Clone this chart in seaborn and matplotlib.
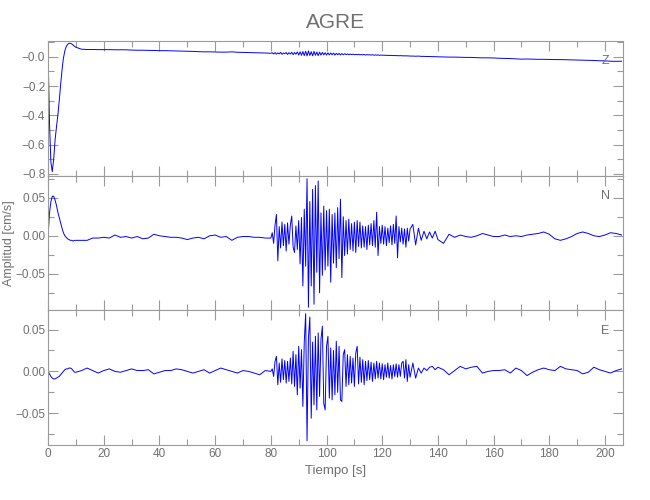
import numpy as np
import matplotlib
matplotlib.use("Agg")
import matplotlib.pyplot as plt
from matplotlib.ticker import MultipleLocator, FixedLocator, FixedFormatter
import seaborn as sns

# sampling instants (s): dense at the onset and during the strong motion
t_onset = np.arange(0, 10.01, 0.5)
t_pre = np.arange(12, 80.1, 2)
t_strong = np.arange(80.5, 130.01, 0.5)
t_coda = np.arange(131, 140.1, 1)
t_tail = np.arange(142, 206.1, 2)

# Z component (cm/s)
z_onset = [0.02, -0.45, -0.72, -0.785, -0.70, -0.57, -0.48, -0.40, -0.30, -0.19, -0.09,
           -0.01, 0.04, 0.07, 0.085, 0.092, 0.092, 0.088, 0.08, 0.072, 0.065]
z_pre = [0.052, 0.050, 0.050, 0.049, 0.049, 0.049, 0.048, 0.048, 0.048, 0.046, 0.045, 0.045,
         0.044, 0.043, 0.042, 0.042, 0.041, 0.040, 0.039, 0.038, 0.037, 0.035, 0.034, 0.034,
         0.033, 0.032, 0.032, 0.034, 0.031, 0.030, 0.029, 0.028, 0.027, 0.026, 0.024]
z_strong = [0.028, 0.019, 0.029, 0.018, 0.027, 0.020, 0.030, 0.017, 0.026, 0.021,
            0.029, 0.016, 0.028, 0.019, 0.031, 0.015, 0.029, 0.018, 0.033, 0.012,
            0.034, 0.010, 0.036, 0.008, 0.038, 0.006, 0.040, 0.009, 0.035, 0.007,
            0.037, 0.010, 0.033, 0.008, 0.032, 0.012, 0.030, 0.013, 0.028, 0.012,
            0.027, 0.013, 0.026, 0.014, 0.025, 0.012, 0.024, 0.014, 0.023, 0.013,
            0.022, 0.014, 0.021, 0.015, 0.020, 0.014, 0.019, 0.015, 0.018, 0.014,
            0.017, 0.014, 0.017, 0.013, 0.016, 0.013, 0.016, 0.012, 0.015, 0.013,
            0.014, 0.012, 0.014, 0.011, 0.013, 0.011, 0.013, 0.010, 0.012, 0.011,
            0.011, 0.010, 0.011, 0.009, 0.010, 0.009, 0.010, 0.008, 0.009, 0.008,
            0.008, 0.007, 0.008, 0.007, 0.007, 0.006, 0.007, 0.006, 0.006, 0.005]
z_coda = [0.005, 0.004, 0.005, 0.003, 0.003, 0.002, 0.002, 0.001, 0.001, 0.0]
z_tail = [-0.001, -0.002, -0.002, -0.003, -0.004, -0.004, -0.006, -0.007, -0.007, -0.008,
          -0.010, -0.011, -0.012, -0.014, -0.016, -0.015, -0.016, -0.017, -0.017, -0.018,
          -0.019, -0.019, -0.020, -0.021, -0.022, -0.023, -0.024, -0.025, -0.027, -0.028,
          -0.030, -0.031, -0.030]

# N component (cm/s)
n_onset = [0.0, 0.03, 0.045, 0.052, 0.052, 0.047, 0.040, 0.031, 0.024, 0.017, 0.010,
           0.004, 0.0, -0.002, -0.004, -0.005, -0.006, -0.006, -0.007, -0.006, -0.006]
n_pre = [-0.006, -0.006, -0.003, -0.003, -0.002, -0.003, 0.001, -0.002, -0.001, -0.003,
         -0.001, -0.004, -0.003, 0.002, 0.0, -0.001, -0.002, -0.002, -0.003, -0.005,
         -0.003, -0.002, -0.004, 0.0, 0.001, -0.002, -0.001, -0.006, -0.002, -0.001,
         -0.001, -0.002, -0.002, -0.003, -0.003]
n_strong = [0.004, -0.010, 0.014, 0.028, -0.033, 0.012, -0.016, 0.018, -0.013, 0.015,
            -0.020, 0.017, -0.011, 0.014, 0.026, -0.015, -0.022, 0.013, -0.018, 0.020,
            -0.037, 0.024, -0.066, 0.035, -0.040, 0.075, -0.094, 0.045, -0.066, 0.061,
            -0.090, 0.066, -0.048, 0.072, -0.075, 0.030, -0.052, 0.039, -0.045, 0.033,
            -0.040, 0.035, -0.061, 0.028, -0.036, 0.030, -0.042, 0.037, -0.030, 0.048,
            -0.055, 0.025, -0.026, 0.020, -0.024, 0.022, -0.018, 0.016, -0.020, 0.018,
            -0.022, 0.020, -0.014, 0.018, -0.016, 0.013, -0.015, 0.012, -0.018, 0.014,
            -0.012, 0.016, -0.013, 0.020, -0.015, 0.031, -0.026, 0.012, -0.010, 0.014,
            -0.011, 0.012, -0.013, 0.010, -0.009, 0.013, -0.012, 0.015, -0.010, 0.026,
            -0.029, 0.012, -0.008, 0.010, -0.011, 0.009, -0.015, 0.010, -0.007, 0.009]
n_coda = [0.015, -0.012, 0.010, -0.006, 0.006, -0.004, 0.005, -0.003, 0.006, -0.005]
n_tail = [-0.010, 0.002, -0.002, 0.001, -0.001, -0.002, 0.0, 0.003, 0.001, -0.001,
          -0.001, 0.001, -0.001, 0.0, -0.001, 0.001, 0.002, 0.003, 0.005, 0.002,
          -0.004, -0.006, -0.004, -0.001, 0.003, 0.005, 0.003, 0.0, -0.001, 0.001,
          0.004, 0.003, 0.001]

# E component (cm/s)
e_onset = [0.0, -0.003, -0.006, -0.008, -0.009, -0.009, -0.008, -0.007, -0.006, -0.004,
           -0.002, 0.0, 0.002, 0.003, 0.003, 0.004, 0.004, 0.003, 0.001, -0.001, -0.001]
e_pre = [0.001, 0.004, 0.001, -0.002, 0.001, 0.003, 0.0, -0.001, 0.001, 0.003,
         0.001, 0.001, 0.002, -0.003, -0.001, 0.001, 0.001, 0.003, 0.002, 0.0,
         -0.002, 0.0, 0.002, -0.002, 0.001, 0.004, 0.002, 0.0, -0.002, 0.001,
         0.0, -0.002, -0.004, 0.001, 0.0]
e_strong = [0.003, -0.006, 0.012, 0.018, -0.016, 0.010, -0.013, 0.015, -0.010, 0.013,
            -0.014, 0.012, -0.012, 0.016, -0.015, 0.024, -0.018, 0.020, -0.028, 0.030,
            -0.020, 0.026, -0.042, 0.035, 0.069, -0.083, 0.040, 0.065, -0.056, 0.035,
            -0.040, 0.042, -0.046, 0.046, -0.030, 0.038, 0.054, -0.038, -0.046, 0.030,
            0.042, -0.032, 0.028, -0.034, 0.025, -0.028, 0.036, -0.025, 0.030, -0.034,
            -0.036, 0.020, 0.026, -0.018, 0.020, -0.016, 0.018, -0.014, 0.016, -0.018,
            0.022, 0.030, -0.015, 0.017, -0.013, 0.014, -0.016, 0.012, -0.011, 0.013,
            -0.010, 0.011, -0.012, 0.010, -0.009, 0.012, -0.008, 0.010, -0.009, 0.009,
            -0.010, 0.008, -0.007, 0.010, -0.008, 0.007, -0.009, 0.008, -0.006, 0.009,
            -0.007, 0.008, -0.006, 0.010, 0.012, -0.008, 0.014, -0.012, 0.008, -0.007]
e_coda = [0.010, -0.008, 0.004, -0.002, 0.004, 0.001, 0.005, 0.006, 0.002, 0.005]
e_tail = [0.002, -0.004, 0.001, 0.006, 0.003, 0.005, 0.006, -0.002, 0.0, 0.001,
          0.001, 0.002, -0.002, 0.004, 0.001, -0.005, -0.001, 0.002, 0.004, 0.002,
          0.001, 0.006, 0.003, 0.002, 0.001, -0.003, -0.001, 0.005, 0.002, 0.0,
          -0.002, 0.001, 0.003]

components = ["Z", "N", "E"]
title = "AGRE"

time = np.concatenate([t_onset, t_pre, t_strong, t_coda, t_tail])
traces = {
    "Z": np.concatenate([z_onset, z_pre, z_strong, z_coda, z_tail]),
    "N": np.concatenate([n_onset, n_pre, n_strong, n_coda, n_tail]),
    "E": np.concatenate([e_onset, e_pre, e_strong, e_coda, e_tail]),
}

sns.set_style("ticks")
plt.rcParams["font.family"] = ["Liberation Sans", "DejaVu Sans"]
txt = "#707070"
frame = "#9a9a9a"

fig, axes = plt.subplots(3, 1, figsize=(6.5, 5), dpi=100, sharex=True)
fig.subplots_adjust(left=0.074, right=0.959, top=0.918, bottom=0.11, hspace=0)

ylims = {"Z": (-0.812, 0.108), "N": (-0.098, 0.079), "E": (-0.088, 0.073)}

for ax, comp in zip(axes, components):
    sns.lineplot(x=time, y=traces[comp], ax=ax, color="#0000ff", linewidth=0.7,
                 estimator=None, sort=False)
    ax.set_xlim(0, 206.6)
    ax.set_ylim(*ylims[comp])
    if comp == "Z":
        ax.yaxis.set_major_locator(FixedLocator([0.0, -0.2, -0.4, -0.6, -0.8]))
        ax.yaxis.set_major_formatter(FixedFormatter(["\u22120.0", "\u22120.2", "\u22120.4",
                                                     "\u22120.6", "\u22120.8"]))
        ax.yaxis.set_minor_locator(MultipleLocator(0.1))
    else:
        ax.yaxis.set_major_locator(FixedLocator([-0.05, 0.0, 0.05]))
        ax.yaxis.set_major_formatter(FixedFormatter(["\u22120.05", "0.00", "0.05"]))
        ax.yaxis.set_minor_locator(MultipleLocator(0.025))
    ax.xaxis.set_major_locator(MultipleLocator(20))
    ax.xaxis.set_minor_locator(MultipleLocator(10))
    ax.tick_params(which="both", direction="in", top=True, right=True,
                   color=frame, labelcolor=txt, labelsize=8.5, pad=2)
    ax.tick_params(which="major", length=7, width=0.8)
    ax.tick_params(which="minor", length=4, width=0.8)
    for s in ax.spines.values():
        s.set_color(frame)
        s.set_linewidth(0.8)
    ax.text(0.969, 0.85, comp, transform=ax.transAxes, ha="center", va="center",
            color=txt, fontsize=9)
    ax.set_ylabel("")

axes[1].set_ylabel("Amplitud [cm/s]", color=txt, fontsize=9)
axes[1].yaxis.set_label_coords(-0.057, 0.5)
axes[2].set_xlabel("Tiempo [s]", color=txt, fontsize=9.5)
axes[2].xaxis.set_label_coords(0.5, -0.145)
fig.text(0.516, 0.955, title, ha="center", va="center", color=txt, fontsize=15)

fig.savefig("out.png", dpi=100)
